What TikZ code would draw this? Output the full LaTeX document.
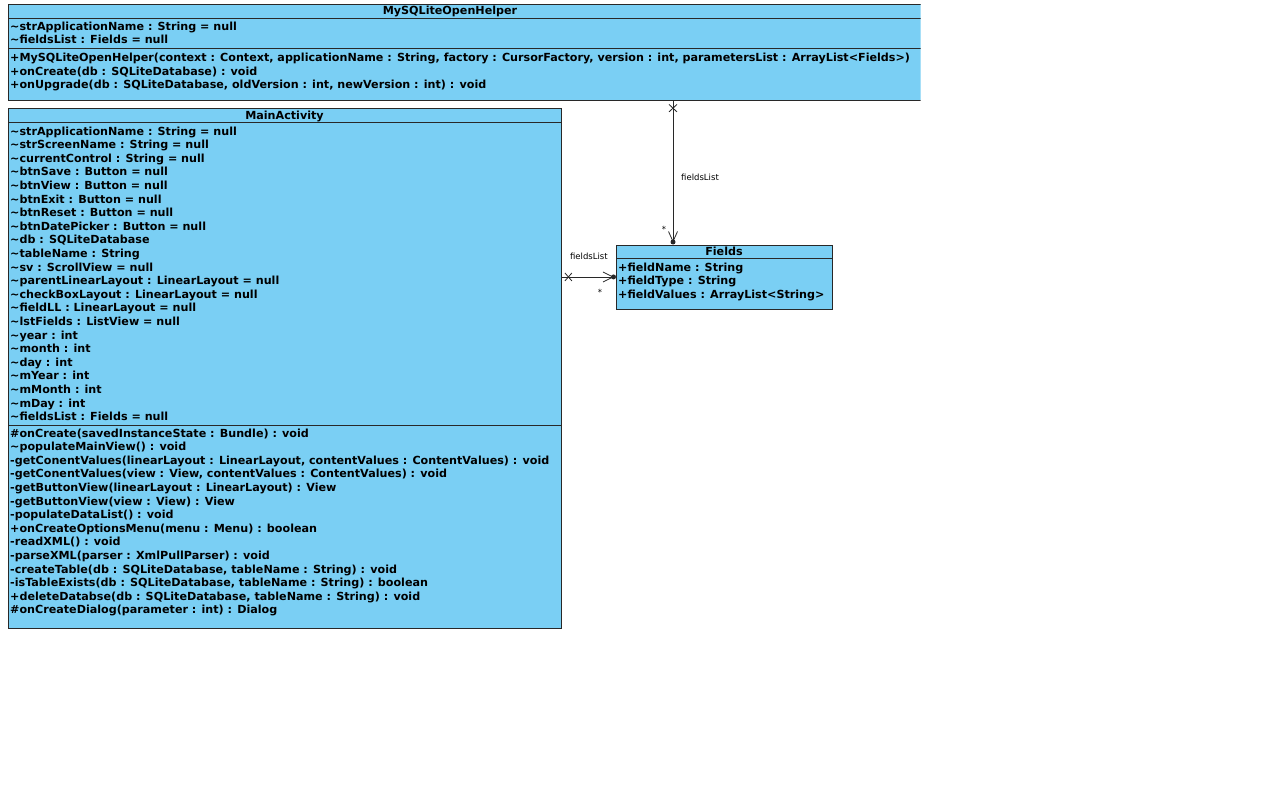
\documentclass[tikz,border=0pt]{standalone}
\usepackage{fontspec}
\setmainfont{DejaVu Sans}
\usetikzlibrary{calc}
\definecolor{clsfill}{RGB}{122,207,244}
\definecolor{clsline}{RGB}{40,40,40}
\newcommand\tld{\textasciitilde}
\begin{document}
\begin{tikzpicture}[x=1pt,y=-1pt,
  classbox/.style={draw=clsline,fill=clsfill,line width=0.9pt,inner sep=0pt,anchor=north west},
  sep/.style={draw=clsline,line width=0.9pt},
  member/.style={anchor=base west,inner sep=0pt,font=\bfseries\fontsize{11.15}{13}\selectfont},
  ctitle/.style={anchor=base,inner sep=0pt,font=\bfseries\fontsize{11.15}{13}\selectfont},
  link/.style={draw=clsline,line width=0.8pt},
  lbl/.style={inner sep=0pt,font=\fontsize{8.5}{10}\selectfont}]
\useasboundingbox[fill=white] (0,0) rectangle (1280,800);

% ---------- MySQLiteOpenHelper (runs past the right edge) ----------
\begin{scope}
  \clip (0,0) rectangle (920.5,800);
  \node[classbox,minimum width=940pt,minimum height=96pt] (helper) at (8,4) {};
  \draw[sep] ($(helper.north west)+(0,14)$) -- ($(helper.north east)+(0,14)$);
  \draw[sep] ($(helper.north west)+(0,44)$) -- ($(helper.north east)+(0,44)$);
\end{scope}
\node[ctitle] (helpertitle) at (450,15) {MySQLiteOpenHelper};
\node[member] (ha1) at (10,30.5) {\tld strApplicationName : String = null};
\node[member] (ha2) at (10,44) {\tld fieldsList : Fields = null};
\node[member] (hm1) at (10,61.5) {+MySQLiteOpenHelper(context : Context, applicationName : String, factory : CursorFactory, version : int, parametersList : ArrayList<Fields>)};
\node[member] (hm2) at (10,75) {+onCreate(db : SQLiteDatabase) : void};
\node[member] (hm3) at (10,88.5) {+onUpgrade(db : SQLiteDatabase, oldVersion : int, newVersion : int) : void};

% ---------- MainActivity ----------
\node[classbox,minimum width=553pt,minimum height=520pt] (main) at (8,108) {};
\draw[sep] ($(main.north west)+(0,14)$) -- ($(main.north east)+(0,14)$);
\draw[sep] ($(main.north west)+(0,317)$) -- ($(main.north east)+(0,317)$);
\node[ctitle] (maintitle) at (284.5,119) {MainActivity};
\foreach \t [count=\i] in {
  {\tld strApplicationName : String = null},
  {\tld strScreenName : String = null},
  {\tld currentControl : String = null},
  {\tld btnSave : Button = null},
  {\tld btnView : Button = null},
  {\tld btnExit : Button = null},
  {\tld btnReset : Button = null},
  {\tld btnDatePicker : Button = null},
  {\tld db : SQLiteDatabase},
  {\tld tableName : String},
  {\tld sv : ScrollView = null},
  {\tld parentLinearLayout : LinearLayout = null},
  {\tld checkBoxLayout : LinearLayout = null},
  {\tld fieldLL : LinearLayout = null},
  {\tld lstFields : ListView = null},
  {\tld year : int},
  {\tld month : int},
  {\tld day : int},
  {\tld mYear : int},
  {\tld mMonth : int},
  {\tld mDay : int},
  {\tld fieldsList : Fields = null}}
  \node[member] (ma\i) at (10,{135+13.6*(\i-1)}) {\t};
\foreach \t [count=\i] in {
  {\#onCreate(savedInstanceState : Bundle) : void},
  {\tld populateMainView() : void},
  {-getConentValues(linearLayout : LinearLayout, contentValues : ContentValues) : void},
  {-getConentValues(view : View, contentValues : ContentValues) : void},
  {-getButtonView(linearLayout : LinearLayout) : View},
  {-getButtonView(view : View) : View},
  {-populateDataList() : void},
  {+onCreateOptionsMenu(menu : Menu) : boolean},
  {-readXML() : void},
  {-parseXML(parser : XmlPullParser) : void},
  {-createTable(db : SQLiteDatabase, tableName : String) : void},
  {-isTableExists(db : SQLiteDatabase, tableName : String) : boolean},
  {+deleteDatabse(db : SQLiteDatabase, tableName : String) : void},
  {\#onCreateDialog(parameter : int) : Dialog}}
  \node[member] (mm\i) at (10,{437+13.6*(\i-1)}) {\t};

% ---------- Fields ----------
\node[classbox,minimum width=216pt,minimum height=64pt] (fields) at (616,244.5) {};
\draw[sep] ($(fields.north west)+(0,14)$) -- ($(fields.north east)+(0,14)$);
\node[ctitle] (fieldstitle) at (724,255) {Fields};
\node[member] (fa1) at (618,271) {+fieldName : String};
\node[member] (fa2) at (618,284.5) {+fieldType : String};
\node[member] (fa3) at (618,298) {+fieldValues : ArrayList<String>};

% ---------- associations ----------
% helper -> fields
\path (fields.north west) ++(57,0) coordinate (vb);
\coordinate (va) at (helper.south -| vb);
\draw[link] (va) -- ($(vb)+(0,-2.5)$);
\draw[link] ($(va)+(-4,3.5)$) -- ($(va)+(4,11)$);
\draw[link] ($(va)+(-4,11)$) -- ($(va)+(4,3.5)$);
\draw[link] ($(vb)+(-4.5,-13)$) -- ($(vb)+(0,-3)$) -- ($(vb)+(4.5,-13)$);
\fill[clsline] ($(vb)+(0,-2.5)$) circle (2.5pt);
\node[lbl,anchor=base west] (vlabel) at ($(va)+(8,80)$) {fieldsList};
\node[lbl,anchor=base] (vmult) at ($(vb)+(-9,-12)$) {*};

% main -> fields
\coordinate (hb) at (fields.west);
\coordinate (ha) at (main.east |- hb);
\draw[link] (ha) -- ($(hb)+(-2.5,0)$);
\draw[link] ($(ha)+(3,-4)$) -- ($(ha)+(10,4)$);
\draw[link] ($(ha)+(3,4)$) -- ($(ha)+(10,-4)$);
\draw[link] ($(hb)+(-13,-5)$) -- ($(hb)+(-3,0)$) -- ($(hb)+(-13,5)$);
\fill[clsline] ($(hb)+(-2.5,0)$) circle (2.5pt);
\node[lbl,anchor=base] (hlabel) at ($(ha)+(27,-17)$) {fieldsList};
\node[lbl,anchor=base] (hmult) at ($(hb)+(-16,19)$) {*};
\end{tikzpicture}
\end{document}
